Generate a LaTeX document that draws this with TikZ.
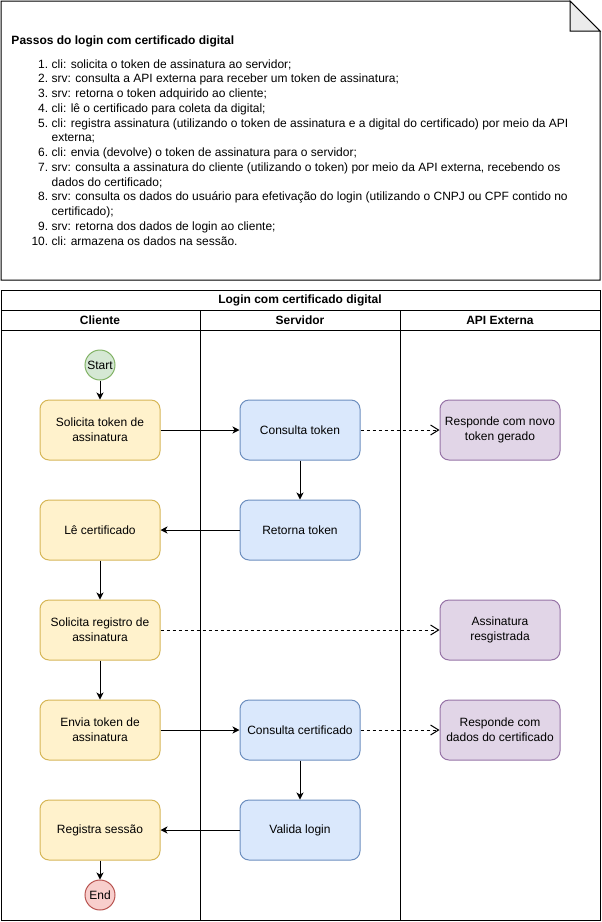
\documentclass[tikz,border=0pt]{standalone}
\usepackage{fontspec}
\setmainfont{Liberation Sans}
\usetikzlibrary{arrows.meta}

\definecolor{cliFill}{HTML}{FFF2CC}
\definecolor{cliLine}{HTML}{D6B656}
\definecolor{srvFill}{HTML}{DAE8FC}
\definecolor{srvLine}{HTML}{6C8EBF}
\definecolor{apiFill}{HTML}{E1D5E7}
\definecolor{apiLine}{HTML}{9673A6}
\definecolor{iniFill}{HTML}{D5E8D4}
\definecolor{iniLine}{HTML}{82B366}
\definecolor{fimFill}{HTML}{F8CECC}
\definecolor{fimLine}{HTML}{B85450}
\definecolor{foldGray}{HTML}{EBEBEB}

\begin{document}
\begin{tikzpicture}[x=1pt,y=-1pt,line width=1pt,
	>/.tip={Stealth[length=7pt,width=7pt,inset=2pt]},
	font=\fontsize{12}{15}\selectfont,
	passo/.style={draw,rounded corners=9pt,minimum width=120pt,minimum height=60pt,align=center},
	cli/.style={passo,fill=cliFill,draw=cliLine},
	srv/.style={passo,fill=srvFill,draw=srvLine},
	api/.style={passo,fill=apiFill,draw=apiLine},
	marco/.style={draw,shape=circle,minimum size=30pt,inner sep=0pt},
	tracejado/.style={dash pattern=on 3pt off 3pt,-{Straight Barb[length=8pt,width=10pt]}},
	cabecalho/.style={font=\fontsize{12}{15}\selectfont\bfseries}]
	\useasboundingbox (0,0) rectangle (602,922);
	% nota com os passos
	\draw[fill=white] (1,1) -- (570,1) -- (600,31) -- (600,280) -- (1,280) -- cycle;
	\draw[fill=foldGray] (570,1) -- (570,31) -- (600,31) -- cycle;
	\node (titulo) [anchor=base west,inner sep=0pt,cabecalho] at (11,44.5) {Passos do login com certificado digital};
	\node (passos) [anchor=north west,inner sep=0pt,font=\fontsize{12}{14.75}\selectfont] at (31,57.2) {%
		\begin{tabular}{@{}r@{\hspace{3.5pt}}l@{}}
		1. & cli: solicita o token de assinatura ao servidor;\\
		2. & srv: consulta a API externa para receber um token de assinatura;\\
		3. & srv: retorna o token adquirido ao cliente;\\
		4. & cli: lê o certificado para coleta da digital;\\
		5. & cli: registra assinatura (utilizando o token de assinatura e a digital do certificado) por meio da API\\
		   & externa;\\
		6. & cli: envia (devolve) o token de assinatura para o servidor;\\
		7. & srv: consulta a assinatura do cliente (utilizando o token) por meio da API externa, recebendo os\\
		   & dados do certificado;\\
		8. & srv: consulta os dados do usuário para efetivação do login (utilizando o CNPJ ou CPF contido no\\
		   & certificado);\\
		9. & srv: retorna dos dados de login ao cliente;\\
		10. & cli: armazena os dados na sessão.
		\end{tabular}};
	% raias
	\draw (1,290) rectangle (600,920);
	\draw (1,310) -- (600,310);
	\draw (1,330) -- (600,330);
	\draw (200,310) -- (200,920);
	\draw (400,310) -- (400,920);
	\node (pool) [cabecalho] at (300,300) {Login com certificado digital};
	\node (raiaCli) [cabecalho] at (100,320) {Cliente};
	\node (raiaSrv) [cabecalho] at (300,320) {Servidor};
	\node (raiaApi) [cabecalho] at (500,320) {API Externa};
	% fluxo
	\draw (100,365) node (inicio) [marco,fill=iniFill,draw=iniLine] {Start};
	\draw (100,430) node (solToken) [cli] {Solicita token de\\assinatura};
	\draw (300,430) node (consToken) [srv] {Consulta token};
	\draw (500,430) node (respToken) [api] {Responde com novo\\token gerado};
	\draw (300,530) node (retToken) [srv] {Retorna token};
	\draw (100,530) node (leCert) [cli] {Lê certificado};
	\draw (100,630) node (solReg) [cli] {Solicita registro de\\assinatura};
	\draw (500,630) node (assReg) [api] {Assinatura\\resgistrada};
	\draw (100,730) node (envToken) [cli] {Envia token de\\assinatura};
	\draw (300,730) node (consCert) [srv] {Consulta certificado};
	\draw (500,730) node (respCert) [api] {Responde com\\dados do certificado};
	\draw (300,830) node (valLogin) [srv] {Valida login};
	\draw (100,830) node (regSessao) [cli] {Registra sessão};
	\draw (100,895) node (fim) [marco,fill=fimFill,draw=fimLine] {End};
	\path[->] (inicio) edge (solToken);
	\path[->] (solToken) edge (consToken);
	\path[tracejado] (consToken) edge (respToken);
	\path[->] (consToken) edge (retToken);
	\path[->] (retToken) edge (leCert);
	\path[->] (leCert) edge (solReg);
	\path[tracejado] (solReg) edge (assReg);
	\path[->] (solReg) edge (envToken);
	\path[->] (envToken) edge (consCert);
	\path[tracejado] (consCert) edge (respCert);
	\path[->] (consCert) edge (valLogin);
	\path[->] (valLogin) edge (regSessao);
	\path[->] (regSessao) edge (fim);
\end{tikzpicture}
\end{document}
